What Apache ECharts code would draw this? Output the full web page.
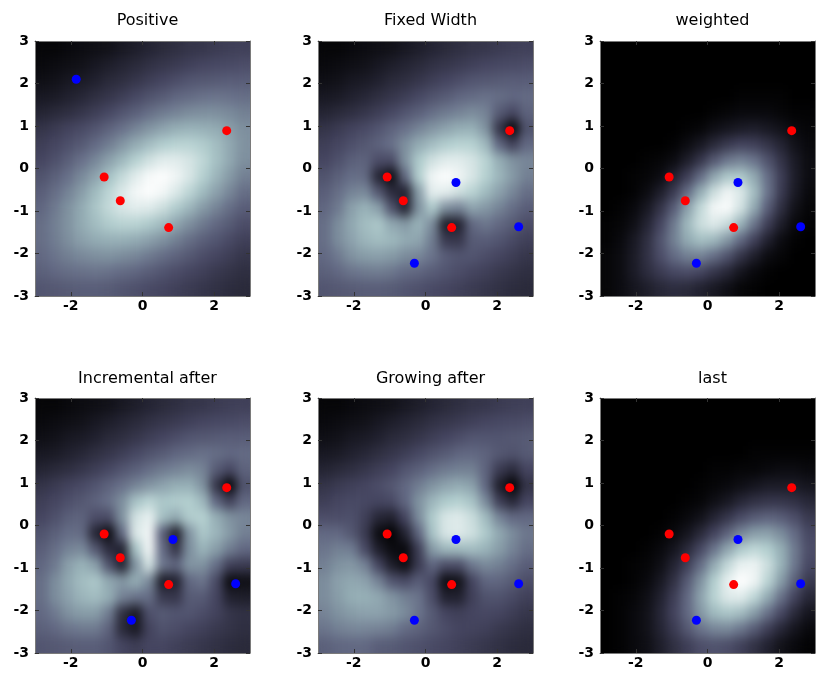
<!DOCTYPE html>
<html>
<head>
<meta charset="utf-8">
<script src="https://cdn.jsdelivr.net/npm/echarts@6/dist/echarts.min.js"></script>
<style>
html,body{margin:0;padding:0;background:#ffffff;}
#wrap{position:relative;width:816px;height:686px;}
#field,#chart{position:absolute;left:0;top:0;width:816px;height:686px;}
#field{filter:url(#smooth);}
</style>
</head>
<body>
<svg width="0" height="0" style="position:absolute">
  <filter id="smooth" x="0" y="0" width="1" height="1" color-interpolation-filters="sRGB">
    <feGaussianBlur stdDeviation="5 6"/>
    <feComponentTransfer>
      <feFuncA type="discrete" tableValues="0 1 1 1 1 1 1 1 1 1 1 1 1 1 1 1 1 1 1 1"/>
    </feComponentTransfer>
  </filter>
</svg>
<div id="wrap"><div id="field"></div><div id="chart"></div></div>
<script>
// ---------------- data ----------------
const panelTitles = ['Positive', 'Fixed Width', 'weighted', 'Incremental after', 'Growing after', 'last'];
const xTickValues = [-2, 0, 2];
const yTickValues = [-3, -2, -1, 0, 1, 2, 3];
// centres of the 16 x 16 field cells (same for x and y)
const cellCenters = [-2.8125, -2.4375, -2.0625, -1.6875, -1.3125, -0.9375, -0.5625, -0.1875,
                     0.1875, 0.5625, 0.9375, 1.3125, 1.6875, 2.0625, 2.4375, 2.8125];
const redPoints = [[-1.07, -0.2], [-0.62, -0.76], [0.73, -1.39], [2.35, 0.89]];
const bluePoints = [[0.85, -0.33], [2.6, -1.37], [-0.31, -2.23]];
const positiveBluePoints = [[-1.85, 2.1]];

// field intensities (0..100), rows from top (y=2.81) to bottom (y=-2.81), columns left to right
const fieldPositive = [
[2,2,3,4,5,6,8,10,12,14,16,18,19,21,22,23],
[3,4,5,6,8,10,12,14,17,19,21,23,25,26,27,28],
[5,6,8,9,11,14,16,19,22,25,28,31,32,33,34,34],
[8,9,11,13,16,19,22,26,30,33,37,39,41,42,41,40],
[12,14,16,19,22,26,31,35,40,44,47,50,51,51,49,46],
[18,21,24,27,31,36,41,47,53,58,62,64,63,61,56,51],
[22,25,29,33,39,45,53,61,68,74,77,77,74,68,60,52],
[25,29,35,41,48,57,66,76,84,90,90,86,79,69,60,51],
[30,35,41,49,58,69,80,90,97,99,95,87,76,65,55,46],
[34,40,47,56,67,78,88,96,99,96,88,78,67,57,48,40],
[37,44,52,61,71,80,87,90,89,83,74,65,55,47,40,34],
[40,46,53,61,68,74,77,77,73,67,59,51,44,38,33,28],
[40,45,51,57,61,63,63,61,57,52,46,40,35,31,27,23],
[38,42,46,49,51,52,50,48,44,40,36,32,28,25,22,19],
[35,38,40,41,42,41,39,37,34,31,28,25,23,20,18,16],
[31,32,33,34,34,33,31,29,27,25,23,21,19,17,15,14]
];
const fieldFixedWidth = [
[2,2,3,4,5,6,8,10,12,14,16,18,19,21,22,23],
[3,4,5,6,8,10,12,14,17,19,21,23,25,26,27,28],
[5,6,8,9,11,14,16,19,22,25,28,31,32,33,34,34],
[8,9,11,13,16,19,22,26,30,33,37,39,41,40,38,39],
[12,14,16,19,22,26,31,35,40,44,47,50,47,33,26,36],
[18,21,24,27,31,36,41,47,53,58,62,63,52,18,2,30],
[22,25,29,32,36,41,51,61,68,74,77,76,66,37,23,38],
[25,29,35,36,28,28,52,73,84,90,90,86,77,62,52,48],
[30,35,40,39,12,4,39,75,95,99,95,87,76,65,55,46],
[34,40,47,49,32,15,11,56,91,91,84,77,67,57,48,40],
[37,44,57,64,57,30,11,52,73,51,47,58,54,47,40,34],
[40,50,60,68,72,60,55,64,50,9,11,38,43,38,33,28],
[40,50,58,65,68,66,61,59,45,20,19,33,34,31,27,23],
[38,44,52,56,57,55,50,48,42,34,31,31,28,25,22,19],
[35,38,42,44,45,43,39,37,34,31,28,25,23,20,18,16],
[31,32,33,34,34,33,31,29,27,25,23,21,19,17,15,14]
];
const fieldWeighted = [
[0,0,0,0,0,0,0,0,0,0,0,0,0,0,0,0],
[0,0,0,0,0,0,0,0,0,0,0,0,0,0,0,0],
[0,0,0,0,0,0,0,0,0,0,0,0,0,0,0,0],
[0,0,0,0,0,0,0,0,0,0,1,1,1,1,0,0],
[0,0,0,0,0,0,0,0,1,2,3,3,3,2,1,1],
[0,0,0,0,0,0,1,2,5,7,9,10,8,6,3,2],
[0,0,0,0,0,1,4,8,14,20,24,23,18,12,6,3],
[0,0,0,1,2,4,10,19,32,43,47,42,30,18,9,4],
[0,0,1,2,4,11,22,39,59,72,73,60,40,22,10,4],
[0,0,1,4,10,21,39,62,83,95,88,68,42,21,9,3],
[0,1,3,8,18,34,57,80,96,98,85,60,34,16,6,2],
[1,2,5,12,25,44,66,83,89,82,64,42,22,10,3,1],
[1,3,8,16,30,46,61,69,66,54,38,23,11,4,1,0],
[2,4,9,17,28,39,46,47,40,30,18,10,4,2,0,0],
[2,4,9,15,21,26,28,25,19,13,7,3,1,0,0,0],
[2,4,7,10,13,15,14,11,8,5,2,1,0,0,0,0]
];
const fieldIncremental = [
[2,2,3,4,5,6,8,10,12,14,16,18,19,21,22,23],
[3,4,5,6,8,10,12,14,17,19,21,23,25,26,27,28],
[5,6,8,9,11,14,16,19,22,25,28,31,32,33,34,34],
[8,9,11,13,16,19,22,26,30,33,37,39,41,40,38,39],
[12,14,16,19,22,26,31,35,40,44,47,50,47,33,26,36],
[18,21,24,27,31,36,41,47,53,58,62,63,52,18,2,30],
[22,25,29,32,36,41,51,70,78,72,74,75,66,37,23,38],
[25,29,35,36,28,28,52,85,92,69,61,74,76,62,52,48],
[30,35,40,39,12,4,39,88,95,34,10,53,72,65,55,46],
[34,40,47,49,32,15,11,70,95,39,18,51,64,56,45,38],
[37,44,57,64,57,30,11,52,85,43,37,53,52,40,23,21],
[40,50,60,68,72,60,54,62,49,9,11,38,42,27,4,5],
[40,50,58,65,68,62,47,42,40,20,19,33,33,25,11,10],
[38,44,52,56,56,45,16,8,29,33,31,31,28,24,19,17],
[35,38,42,44,44,36,14,8,24,30,28,25,23,20,18,16],
[31,32,33,34,34,31,25,22,25,25,23,21,19,17,15,14]
];
const fieldGrowing = [
[2,2,3,4,5,6,8,10,12,14,16,18,19,21,22,23],
[3,4,5,6,8,10,12,14,17,19,21,23,25,26,27,28],
[5,6,8,9,11,14,16,19,22,25,28,31,31,31,32,33],
[8,9,11,13,16,19,22,26,30,33,37,38,36,32,30,33],
[12,14,16,19,22,25,31,35,40,44,46,46,36,21,15,25],
[18,21,23,25,28,32,38,45,52,58,61,57,37,10,1,18],
[22,25,27,26,25,27,37,52,65,73,76,70,49,22,13,25],
[28,28,29,23,13,11,25,50,73,87,89,82,67,47,38,38],
[38,38,32,21,4,1,12,37,70,87,89,84,73,60,50,43],
[42,46,45,27,10,4,3,22,55,66,67,68,64,56,47,40],
[46,52,54,47,25,10,4,21,37,28,28,43,49,46,40,34],
[50,57,60,58,47,31,27,34,26,4,6,25,37,37,33,28],
[50,56,62,63,60,53,46,42,28,11,11,23,30,30,27,23],
[47,52,56,58,58,55,50,42,33,25,23,25,26,25,22,19],
[42,46,48,48,47,45,39,36,32,28,25,24,23,20,18,16],
[35,37,38,38,34,33,31,29,27,25,23,21,19,17,15,14]
];
const fieldLast = [
[0,0,0,0,0,0,0,0,0,0,0,0,0,0,0,0],
[0,0,0,0,0,0,0,0,0,0,0,0,0,0,0,0],
[0,0,0,0,0,0,0,0,0,0,0,0,0,0,0,0],
[0,0,0,0,0,0,0,0,0,0,0,1,1,1,1,1],
[0,0,0,0,0,0,0,0,1,1,2,2,3,4,4,3],
[0,0,0,0,0,0,0,1,2,3,5,7,9,9,9,7],
[0,0,0,0,0,0,1,2,5,8,13,17,19,19,17,13],
[0,0,0,0,0,1,3,6,12,19,27,33,36,34,28,20],
[0,0,0,0,1,3,7,14,24,36,48,56,57,50,39,26],
[0,0,0,1,3,7,14,26,42,59,73,79,75,62,44,28],
[0,0,1,2,5,12,23,40,61,80,93,94,83,64,43,26],
[0,0,1,3,8,17,33,52,75,92,100,95,78,56,35,20],
[0,1,2,5,11,22,38,58,77,89,90,79,61,41,24,13],
[0,1,3,6,13,24,38,54,67,72,68,56,41,26,14,7],
[0,1,3,6,12,21,32,42,48,49,43,33,22,13,7,3],
[0,1,3,5,10,16,22,28,30,28,23,17,11,6,3,1]
];

// ---------------- layout & style ----------------
const fields = [fieldPositive, fieldFixedWidth, fieldWeighted, fieldIncremental, fieldGrowing, fieldLast];
const panelBlue = [positiveBluePoints, bluePoints, bluePoints, bluePoints, bluePoints, bluePoints];
const panelLeft = [35, 318, 600];
const panelTop = [41, 398];
const panelW = 215, panelH = 255;
const titleTop = [8, 366];
// bone colour map, slightly lifted in the mid tones
const boneColors = ['#000000', '#262635', '#454560', '#616781', '#7c8c9c', '#96afb6', '#b3cfcf', '#dae7e7', '#ffffff'];
const fontFamily = 'DejaVu Sans';
const frameColor = '#7a7a7a';

const fieldGrids = [], fieldX = [], fieldY = [], fieldSeries = [];
const grids = [], xAxes = [], yAxes = [], series = [], titles = [];
let clip = '';

function valueAxis(gridIndex, position, ticks, showLabels, isX) {
  return {
    type: 'value', gridIndex: gridIndex, position: position,
    min: -3, max: 3, interval: 1, z: 5,
    axisLine: { show: true, onZero: false, lineStyle: { color: frameColor, width: 1 } },
    axisTick: { show: true, inside: true, length: 4, customValues: ticks, lineStyle: { color: '#333333', width: 1 } },
    axisLabel: { show: showLabels, customValues: ticks, margin: isX ? 3 : 6, color: '#000000',
                 fontSize: 14, fontWeight: 'bold', fontFamily: fontFamily },
    splitLine: { show: false }
  };
}

fields.forEach(function (field, p) {
  const left = panelLeft[p % 3];
  const top = panelTop[Math.floor(p / 3)];
  clip += 'M' + left + ' ' + top + ' h' + panelW + ' v' + panelH + ' h' + (-panelW) + ' Z ';

  // smooth field layer
  fieldGrids.push({ left: left, top: top, width: panelW, height: panelH });
  fieldX.push({ type: 'category', gridIndex: p, data: cellCenters, show: false });
  fieldY.push({ type: 'category', gridIndex: p, data: cellCenters, show: false });
  const cells = [];
  const n = field.length;
  field.forEach(function (row, r) {
    row.forEach(function (v, c) { cells.push([c, n - 1 - r, v]); });
  });
  fieldSeries.push({
    type: 'heatmap', xAxisIndex: p, yAxisIndex: p, data: cells, silent: true,
    itemStyle: { borderWidth: 0 }, emphasis: { disabled: true }, progressive: 0
  });

  // axes, points and titles layer
  const g = grids.length;
  grids.push({ left: left, top: top, width: panelW, height: panelH });
  const xb = xAxes.length;
  xAxes.push(valueAxis(g, 'bottom', xTickValues, true, true));
  xAxes.push(valueAxis(g, 'top', xTickValues, false, true));
  const yl = yAxes.length;
  yAxes.push(valueAxis(g, 'left', yTickValues, true, false));
  yAxes.push(valueAxis(g, 'right', yTickValues, false, false));
  series.push({
    type: 'scatter', xAxisIndex: xb, yAxisIndex: yl, data: redPoints, symbol: 'circle',
    symbolSize: 9, z: 6, silent: true, itemStyle: { color: '#ff0000', opacity: 1 }
  });
  series.push({
    type: 'scatter', xAxisIndex: xb, yAxisIndex: yl, data: panelBlue[p], symbol: 'circle',
    symbolSize: 9, z: 6, silent: true, itemStyle: { color: '#0000ff', opacity: 1 }
  });
  titles.push({
    text: panelTitles[p], left: left + panelW / 2, top: titleTop[Math.floor(p / 3)], textAlign: 'center',
    textStyle: { color: '#000000', fontSize: 16, fontWeight: 'normal', fontFamily: fontFamily }
  });
});

const fieldEl = document.getElementById('field');
fieldEl.style.clipPath = "path('" + clip.trim() + "')";

const fieldChart = echarts.init(fieldEl, null, { renderer: 'canvas' });
fieldChart.setOption({
  animation: false,
  grid: fieldGrids,
  xAxis: fieldX,
  yAxis: fieldY,
  visualMap: {
    type: 'continuous', show: false, min: 0, max: 100, dimension: 2,
    inRange: { color: boneColors }
  },
  series: fieldSeries
});

const chart = echarts.init(document.getElementById('chart'), null, { renderer: 'canvas' });
chart.setOption({
  animation: false,
  backgroundColor: 'transparent',
  textStyle: { fontFamily: fontFamily },
  title: titles,
  grid: grids,
  xAxis: xAxes,
  yAxis: yAxes,
  series: series
});
</script>
</body>
</html>
